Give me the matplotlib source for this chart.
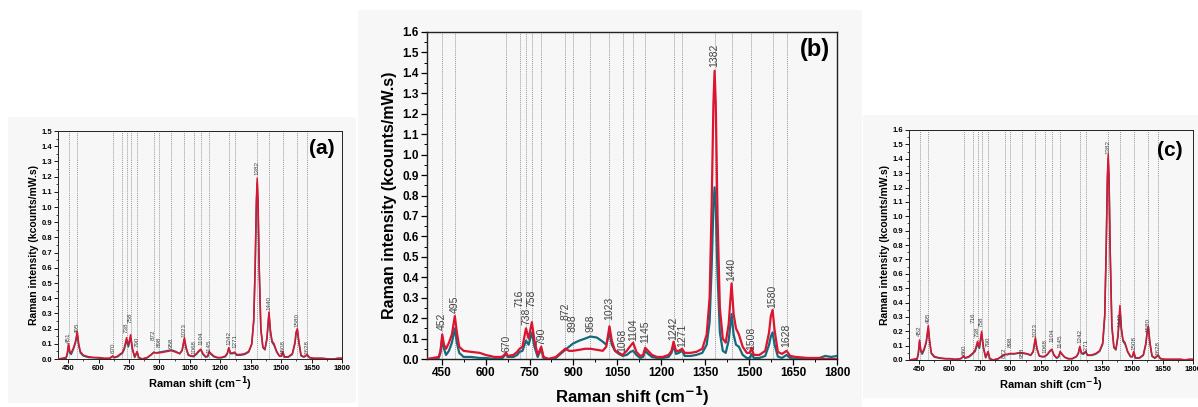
import numpy as np
import matplotlib.pyplot as plt
from matplotlib.patches import Rectangle
from matplotlib.ticker import MultipleLocator, FormatStrFormatter

plt.rcParams['font.family'] = ['Liberation Sans', 'DejaVu Sans']

# Raman shift grid (cm-1), shared by all spectra
shift = [400, 420, 440, 446, 452, 458, 465, 475, 485, 495,
         502, 510, 525, 550, 580, 600, 630, 655, 664, 670,
         676, 695, 708, 716, 726, 738, 747, 758, 767, 778,
         790, 798, 815, 840, 860, 872, 885, 898, 920, 940,
         958, 980, 1000, 1012, 1023, 1031, 1042, 1055, 1068, 1082,
         1095, 1104, 1115, 1128, 1138, 1145, 1155, 1168, 1185, 1205,
         1225, 1235, 1242, 1250, 1260, 1271, 1280, 1300, 1320, 1340,
         1355, 1365, 1372, 1378, 1382, 1386, 1392, 1400, 1410, 1420,
         1430, 1440, 1447, 1455, 1465, 1478, 1492, 1502, 1508, 1516,
         1535, 1555, 1568, 1574, 1580, 1587, 1598, 1612, 1628, 1640,
         1660, 1700, 1740, 1760, 1780, 1800]

# panel (a)
red_a = [0.0, 0.005, 0.01, 0.04, 0.10, 0.05, 0.04, 0.07, 0.11, 0.18,
         0.10, 0.05, 0.025, 0.015, 0.01, 0.01, 0.005, 0.005, 0.015, 0.02,
         0.01, 0.02, 0.035, 0.04, 0.07, 0.14, 0.09, 0.16, 0.07, 0.015,
         0.05, 0.01, 0.0, 0.01, 0.03, 0.045, 0.04, 0.04, 0.045, 0.05,
         0.055, 0.045, 0.035, 0.06, 0.14, 0.08, 0.03, 0.02, 0.02, 0.035,
         0.055, 0.065, 0.035, 0.015, 0.02, 0.05, 0.035, 0.02, 0.01, 0.01,
         0.02, 0.04, 0.075, 0.04, 0.04, 0.045, 0.03, 0.03, 0.035, 0.05,
         0.10, 0.26, 0.62, 1.05, 1.19, 1.05, 0.60, 0.20, 0.08, 0.065,
         0.14, 0.31, 0.19, 0.12, 0.10, 0.05, 0.02, 0.02, 0.05, 0.015,
         0.015, 0.035, 0.11, 0.18, 0.20, 0.12, 0.025, 0.015, 0.03, 0.01,
         0.005, 0.005, 0.0, 0.0, 0.005, 0.005]
teal_a = [0.0, 0.0, 0.005, 0.03, 0.09, 0.04, 0.03, 0.06, 0.10, 0.16,
          0.09, 0.04, 0.02, 0.01, 0.008, 0.006, 0.003, 0.003, 0.012, 0.018,
          0.008, 0.015, 0.03, 0.035, 0.06, 0.12, 0.08, 0.14, 0.06, 0.01,
          0.045, 0.008, 0.0, 0.008, 0.028, 0.042, 0.04, 0.045, 0.05, 0.055,
          0.06, 0.05, 0.035, 0.055, 0.13, 0.07, 0.025, 0.018, 0.015, 0.03,
          0.05, 0.06, 0.03, 0.012, 0.015, 0.045, 0.03, 0.015, 0.008, 0.008,
          0.015, 0.035, 0.07, 0.035, 0.035, 0.04, 0.025, 0.025, 0.03, 0.045,
          0.095, 0.25, 0.60, 1.02, 1.16, 1.02, 0.58, 0.19, 0.075, 0.06,
          0.13, 0.30, 0.18, 0.11, 0.09, 0.045, 0.018, 0.018, 0.045, 0.012,
          0.012, 0.03, 0.10, 0.17, 0.19, 0.11, 0.02, 0.012, 0.025, 0.008,
          0.004, 0.004, 0.0, 0.0, 0.004, 0.004]

# panel (b)
red_b = [0.0, 0.005, 0.01, 0.04, 0.12, 0.07, 0.05, 0.08, 0.12, 0.21,
         0.13, 0.06, 0.04, 0.035, 0.03, 0.02, 0.01, 0.01, 0.02, 0.03,
         0.015, 0.02, 0.035, 0.05, 0.06, 0.15, 0.10, 0.18, 0.09, 0.02,
         0.06, 0.01, 0.0, 0.01, 0.035, 0.05, 0.04, 0.04, 0.045, 0.05,
         0.05, 0.045, 0.04, 0.06, 0.16, 0.09, 0.04, 0.03, 0.02, 0.04,
         0.065, 0.08, 0.035, 0.015, 0.02, 0.055, 0.04, 0.02, 0.01, 0.01,
         0.02, 0.04, 0.085, 0.04, 0.04, 0.05, 0.03, 0.03, 0.035, 0.05,
         0.12, 0.30, 0.75, 1.25, 1.41, 1.25, 0.70, 0.25, 0.10, 0.08,
         0.17, 0.37, 0.22, 0.15, 0.12, 0.06, 0.03, 0.03, 0.055, 0.02,
         0.02, 0.04, 0.13, 0.21, 0.24, 0.14, 0.035, 0.025, 0.04, 0.015,
         0.01, 0.005, 0.005, 0.0, 0.0, 0.0]
teal_b = [0.0, 0.0, 0.005, 0.03, 0.10, 0.05, 0.02, 0.04, 0.08, 0.15,
          0.08, 0.03, 0.01, 0.01, 0.005, 0.005, 0.0, 0.0, 0.015, 0.025,
          0.01, 0.01, 0.02, 0.035, 0.04, 0.09, 0.07, 0.13, 0.06, 0.01,
          0.05, 0.005, 0.0, 0.005, 0.03, 0.045, 0.06, 0.075, 0.09, 0.10,
          0.11, 0.105, 0.085, 0.07, 0.13, 0.07, 0.04, 0.025, 0.015, 0.02,
          0.035, 0.04, 0.02, 0.005, 0.01, 0.04, 0.025, 0.01, 0.005, 0.005,
          0.01, 0.03, 0.065, 0.025, 0.03, 0.04, 0.015, 0.015, 0.02, 0.03,
          0.07, 0.18, 0.45, 0.75, 0.84, 0.74, 0.42, 0.13, 0.04, 0.03,
          0.09, 0.22, 0.12, 0.07, 0.06, 0.02, 0.005, 0.005, 0.025, 0.005,
          0.005, 0.015, 0.07, 0.11, 0.13, 0.07, 0.012, 0.005, 0.02, 0.005,
          0.0, 0.0, 0.005, 0.015, 0.01, 0.015]

# panel (c)
red_c = [0.0, 0.005, 0.01, 0.05, 0.14, 0.07, 0.05, 0.08, 0.13, 0.24,
         0.13, 0.05, 0.025, 0.015, 0.01, 0.01, 0.005, 0.01, 0.02, 0.03,
         0.015, 0.025, 0.04, 0.05, 0.07, 0.13, 0.09, 0.20, 0.09, 0.02,
         0.06, 0.01, 0.0, 0.01, 0.03, 0.04, 0.04, 0.045, 0.045, 0.05,
         0.05, 0.045, 0.035, 0.06, 0.155, 0.08, 0.03, 0.025, 0.025, 0.04,
         0.065, 0.075, 0.035, 0.015, 0.025, 0.06, 0.04, 0.02, 0.01, 0.01,
         0.025, 0.05, 0.095, 0.05, 0.045, 0.06, 0.035, 0.035, 0.045, 0.065,
         0.12, 0.32, 0.78, 1.28, 1.43, 1.28, 0.75, 0.24, 0.09, 0.075,
         0.17, 0.38, 0.22, 0.14, 0.12, 0.06, 0.025, 0.025, 0.06, 0.015,
         0.015, 0.035, 0.12, 0.20, 0.235, 0.13, 0.03, 0.015, 0.035, 0.01,
         0.005, 0.005, 0.005, 0.0, 0.005, 0.005]
teal_c = [0.0, 0.0, 0.005, 0.04, 0.13, 0.06, 0.04, 0.07, 0.12, 0.22,
          0.12, 0.045, 0.02, 0.012, 0.008, 0.008, 0.004, 0.008, 0.018, 0.027,
          0.012, 0.02, 0.035, 0.045, 0.06, 0.11, 0.08, 0.18, 0.08, 0.015,
          0.055, 0.008, 0.0, 0.008, 0.027, 0.037, 0.037, 0.042, 0.042, 0.047,
          0.047, 0.042, 0.032, 0.055, 0.145, 0.075, 0.027, 0.022, 0.022, 0.037,
          0.06, 0.07, 0.032, 0.012, 0.022, 0.055, 0.037, 0.018, 0.008, 0.008,
          0.022, 0.045, 0.09, 0.045, 0.04, 0.055, 0.032, 0.032, 0.04, 0.06,
          0.11, 0.30, 0.76, 1.25, 1.40, 1.25, 0.73, 0.23, 0.085, 0.07,
          0.16, 0.36, 0.21, 0.13, 0.11, 0.055, 0.022, 0.022, 0.055, 0.012,
          0.012, 0.032, 0.11, 0.19, 0.225, 0.12, 0.025, 0.012, 0.03, 0.008,
          0.004, 0.004, 0.004, 0.0, 0.004, 0.004]

# band positions (dotted lines)
bands = [452, 495, 670, 716, 738, 758, 790, 872, 898, 958, 1023,
         1068, 1104, 1145, 1242, 1271, 1382, 1440, 1508, 1580, 1628]

# band labels for each panel
lab_a = ['451', '495', '670', '', '738', '758', '790', '872', '898', '958', '1023',
         '1068', '1104', '1145', '1242', '1271', '1382', '1440', '1508', '1580', '1628']
lab_b = ['452', '495', '670', '716', '738', '758', '790', '872', '898', '958', '1023',
         '1068', '1104', '1145', '1242', '1271', '1382', '1440', '1508', '1580', '1628']
lab_c = ['452', '495', '660', '716', '738', '758', '790', '872', '898', '958', '1023',
         '1068', '1104', '1145', '1242', '1271', '1382', '1440', '1508', '1580', '1628']

# label heights (bottom of text) per panel
laby_a = [0.105, 0.17, 0.04, 0, 0.17, 0.24, 0.08, 0.125, 0.08, 0.075, 0.145,
          0.03, 0.09, 0.04, 0.09, 0.07, 1.21, 0.32, 0.03, 0.21, 0.03]
laby_b = [0.14, 0.225, 0.035, 0.255, 0.167, 0.255, 0.07, 0.19, 0.13, 0.13, 0.19,
          0.035, 0.09, 0.08, 0.095, 0.06, 1.43, 0.38, 0.045, 0.25, 0.06]
laby_c = [0.17, 0.26, 0.035, 0.26, 0.16, 0.23, 0.09, 0.015, 0.09, 0.015, 0.16,
          0.05, 0.125, 0.08, 0.115, 0.05, 1.43, 0.23, 0.07, 0.195, 0.035]

W, H = 1198, 407
fig = plt.figure(figsize=(W / 100, H / 100), dpi=100)
bg = '#f7f7f7'

# light panel backgrounds
for (l, t, r, b) in [(8, 117, 356, 403), (358, 10, 862, 407), (863, 115, 1198, 398)]:
    fig.patches.append(Rectangle((l / W, 1 - b / H), (r - l) / W, (b - t) / H,
                                 transform=fig.transFigure, facecolor=bg,
                                 edgecolor='none', zorder=0))


def panel(box, red, teal, labs, laby, ymax, tag, big):
    l, t, r, b = box
    ax = fig.add_axes([l / W, 1 - b / H, (r - l) / W, (b - t) / H])
    ax.set_facecolor(bg)
    ax.set_zorder(2)
    s = 1.0 if big else 0.7
    for x0 in bands:
        ax.axvline(x0, color='#9a9a9a', ls=(0, (1, 1)), lw=0.7, zorder=1)
    ax.plot(shift, teal, color='#146b7c', lw=1.6 * s, zorder=3)
    ax.plot(shift, red, color='#dc1430', lw=1.6 * s, zorder=4)
    fs_lab = 7.5 if big else 4.5
    for x0, txt, y0 in zip(bands, labs, laby):
        if txt:
            ax.text(x0, y0, txt, rotation=90, ha='center', va='bottom',
                    fontsize=fs_lab, color='#444444', zorder=5)
    ax.set_xlim(400, 1800)
    ax.set_ylim(0, ymax)
    ax.set_xticks(np.arange(450, 1801, 150))
    ax.xaxis.set_minor_locator(MultipleLocator(75))
    ax.yaxis.set_major_locator(MultipleLocator(0.1))
    ax.yaxis.set_minor_locator(MultipleLocator(0.05))
    ax.yaxis.set_major_formatter(FormatStrFormatter('%.1f'))
    fs_tick = 8.5 if big else 5.5
    ax.tick_params(which='major', direction='out', length=4 * s, width=0.9 * s,
                   labelsize=fs_tick, pad=2 * s)
    ax.tick_params(which='minor', direction='out', length=2 * s, width=0.7 * s)
    for lbl in ax.get_xticklabels() + ax.get_yticklabels():
        lbl.set_fontweight('bold')
    for sp in ax.spines.values():
        sp.set_linewidth(1.0 * s)
        sp.set_color('#222222')
    ax.set_xlabel('Raman shift (cm$^{\\mathbf{-1}}$)', fontsize=12 if big else 8,
                  fontweight='bold', labelpad=4 if big else 2)
    ax.set_ylabel('Raman intensity (kcounts/mW.s)', fontsize=11.5 if big else 7.5,
                  fontweight='bold', labelpad=4 if big else 2)
    ax.text(*tag[1], tag[0], transform=ax.transAxes, ha='center', va='center',
            fontsize=17 if big else 15, fontweight='bold')
    return ax


panel((58, 131, 342, 359), red_a, teal_a, lab_a, laby_a, 1.5, ('(a)', (0.93, 0.925)), False)
panel((427, 32, 837, 359), red_b, teal_b, lab_b, laby_b, 1.6, ('(b)', (0.946, 0.945)), True)
panel((909, 130, 1193, 360), red_c, teal_c, lab_c, laby_c, 1.6, ('(c)', (0.919, 0.913)), False)

fig.savefig('out.png', dpi=100, facecolor='white')
